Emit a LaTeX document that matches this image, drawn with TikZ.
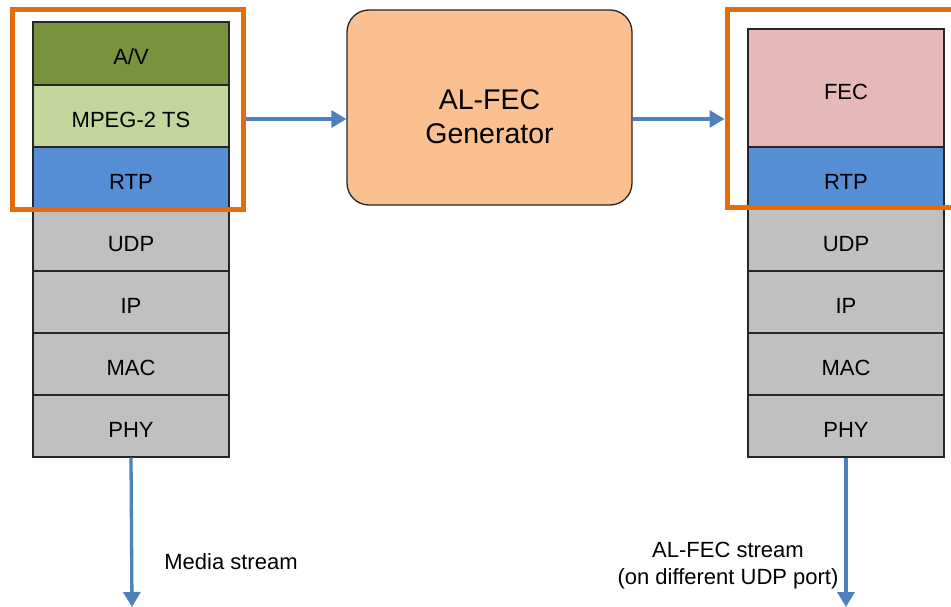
\documentclass[tikz,border=0pt]{standalone}
\usepackage{fontspec}
\setmainfont{Liberation Sans}
\usetikzlibrary{arrows.meta,calc}
\definecolor{avgreen}{HTML}{77933C}
\definecolor{tsgreen}{HTML}{C3D69B}
\definecolor{rtpblue}{HTML}{558ED5}
\definecolor{layergray}{HTML}{C0C0C0}
\definecolor{fecpink}{HTML}{E6B9B8}
\definecolor{genorange}{HTML}{FAC090}
\definecolor{hlorange}{HTML}{E46C0A}
\definecolor{flowblue}{HTML}{4F81BD}
\tikzset{
  layer/.style={draw=black!85, line width=1.3pt, minimum width=196pt,
    minimum height=62pt, inner sep=0pt, text height=23pt, text depth=0pt,
    font=\fontsize{22}{26}\selectfont},
  highlight/.style={draw=hlorange, line width=5pt, inner sep=0pt},
  flow/.style={draw=flowblue, line width=3.3pt,
    -{Triangle[length=15pt,width=17pt]}},
  caption/.style={font=\fontsize{22}{27}\selectfont, align=center}
}
\begin{document}
\begin{tikzpicture}[x=1pt,y=-1pt]
\useasboundingbox (0,0) rectangle (951,607);
\fill[white] (0,0) rectangle (951,607);

% sender protocol stack
\node[layer, fill=avgreen, minimum height=63pt] (lav) at (131,53.5) {A/V};
\node[layer, fill=tsgreen] (lts) at (131,116) {MPEG-2 TS};
\node[layer, fill=rtpblue] (lrtp) at (131,178) {RTP};
\node[layer, fill=layergray] (ludp) at (131,240) {UDP};
\node[layer, fill=layergray] (lip) at (131,302) {IP};
\node[layer, fill=layergray] (lmac) at (131,364) {MAC};
\node[layer, fill=layergray] (lphy) at (131,426) {PHY};

% FEC protocol stack
\node[layer, fill=fecpink, minimum height=118pt] (rfec) at (846,88) {FEC};
\node[layer, fill=rtpblue] (rrtp) at (846,178) {RTP};
\node[layer, fill=layergray] (rudp) at (846,240) {UDP};
\node[layer, fill=layergray] (rip) at (846,302) {IP};
\node[layer, fill=layergray] (rmac) at (846,364) {MAC};
\node[layer, fill=layergray] (rphy) at (846,426) {PHY};

% generator
\node[draw=black!85, line width=1.3pt, fill=genorange, rounded corners=22pt,
  minimum width=285pt, minimum height=195pt] (gen) at (489.5,107.5) {};
\node[align=center, font=\fontsize{28.5}{34}\selectfont] (gentext)
  at ($(gen.center)+(0,9)$) {AL-FEC\\Generator};

% highlighted layers
\node[highlight, minimum width=231pt, minimum height=199pt] (lhl) at (127.5,109.5) {};
\node[highlight, minimum width=240pt, minimum height=197pt] (rhl) at (847,108.5) {};

% data flow
\coordinate (flowy) at (0,119);
\draw[flow] (lhl.east |- flowy) -- (gen.west |- flowy);
\draw[flow] (gen.east |- flowy) -- (rhl.west |- flowy);
\coordinate (lout) at (132,607);
\coordinate (rout) at (846,607);
\draw[flow] (lphy.south) -- (lout);
\draw[flow] (rphy.south) -- (rout);

\node[caption] (lcap) at (231,562) {Media stream};
\node[caption] (rcap) at (728,566) {AL-FEC stream\\(on different UDP port)};
\end{tikzpicture}
\end{document}
